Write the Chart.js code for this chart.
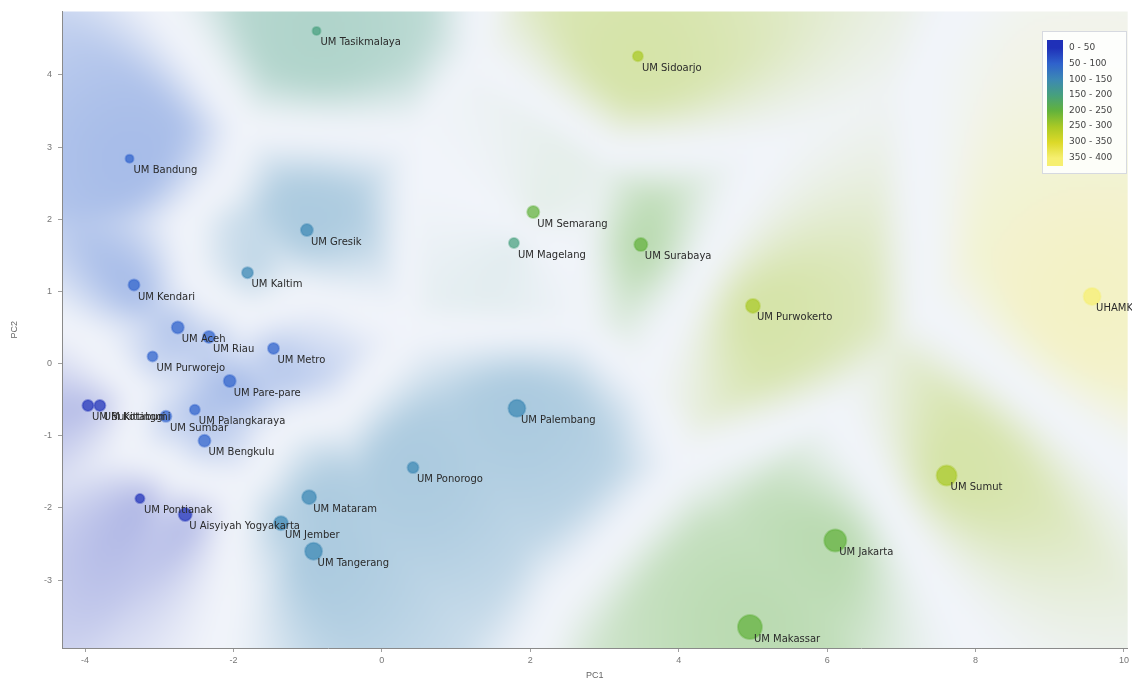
<!DOCTYPE html>
<html>
<head>
<meta charset="utf-8">
<script src="https://cdn.jsdelivr.net/npm/chart.js@4.4.1/dist/chart.umd.min.js"></script>
<style>
  html, body { margin: 0; padding: 0; background: #fff; }
  #wrap { width: 1132px; height: 683px; }
</style>
</head>
<body>
<div id="wrap"><canvas id="pcaChart"></canvas></div>
<script>
// PCA scores per campus
const names = ['UM Tasikmalaya', 'UM Sidoarjo', 'UM Bandung', 'UM Semarang', 'UM Magelang', 'UM Surabaya',
  'UM Gresik', 'UM Kaltim', 'UM Kendari', 'UM Purwokerto', 'UHAMKA', 'UM Aceh', 'UM Riau', 'UM Metro',
  'UM Purworejo', 'UM Pare-pare', 'UM Bukittinggi', 'UM Kotabumi', 'UM Sumbar', 'UM Palangkaraya',
  'UM Bengkulu', 'UM Palembang', 'UM Ponorogo', 'UM Pontianak', 'U Aisyiyah Yogyakarta', 'UM Mataram',
  'UM Jember', 'UM Tangerang', 'UM Sumut', 'UM Jakarta', 'UM Makassar'];
const pc1 = [-0.88, 3.45, -3.40, 2.04, 1.78, 3.49, -1.01, -1.81, -3.34, 5.00, 9.57, -2.75, -2.33, -1.46,
  -3.09, -2.05, -3.96, -3.80, -2.91, -2.52, -2.39, 1.82, 0.42, -3.26, -2.65, -0.98, -1.36, -0.92, 7.61, 6.11, 4.96];
const pc2 = [4.61, 4.26, 2.84, 2.10, 1.67, 1.65, 1.85, 1.26, 1.09, 0.80, 0.93, 0.50, 0.37, 0.21,
  0.10, -0.24, -0.58, -0.58, -0.73, -0.64, -1.07, -0.62, -1.44, -1.87, -2.09, -1.85, -2.21, -2.60, -1.55, -2.45, -3.65];
// colour variable (0 - 400) and bubble size variable
const scores = [175, 270, 75, 215, 165, 220, 125, 120, 70, 265, 360, 80, 90, 85,
  70, 85, 30, 35, 55, 90, 75, 130, 125, 40, 45, 140, 100, 100, 275, 225, 230];
const weights = [24, 36, 24, 48, 36, 54, 48, 42, 42, 60, 78, 48, 48, 42,
  36, 48, 42, 42, 42, 36, 48, 78, 42, 30, 54, 60, 60, 78, 96, 108, 120];

const xTicks = [-4, -2, 0, 2, 4, 6, 8, 10];
const yTicks = [-3, -2, -1, 0, 1, 2, 3, 4];
const binLabels = ['0 - 50', '50 - 100', '100 - 150', '150 - 200', '200 - 250', '250 - 300', '300 - 350', '350 - 400'];
const binColors = ['#1f30b8', '#2f62cc', '#3c88b4', '#46a07e', '#62b23c', '#a9c925', '#dcd928', '#f6ef70'];

function rgb(hex) {
  const n = parseInt(hex.slice(1), 16);
  return [(n >> 16) & 255, (n >> 8) & 255, n & 255];
}
function binOf(v) { return Math.max(0, Math.min(binColors.length - 1, Math.floor(v / 50))); }
function rgba(hex, a) { const c = rgb(hex); return `rgba(${c[0]},${c[1]},${c[2]},${a})`; }

const bubbles = pc1.map((x, i) => ({ x: x, y: pc2[i], r: 2 + weights[i] / 12 }));

// soft coloured regions behind the points
const fieldPlugin = {
  id: 'field',
  beforeDraw(chart) {
    const { ctx, chartArea: a, scales } = chart;
    const step = 3, m = 30;
    const left = a.left - m, top = a.top - m;
    const gw = Math.ceil((a.right - a.left + 2 * m) / step), gh = Math.ceil((a.bottom - a.top + 2 * m) / step);
    const off = document.createElement('canvas');
    off.width = gw; off.height = gh;
    const octx = off.getContext('2d');
    const img = octx.createImageData(gw, gh);
    const px = pc1.map(v => scales.x.getPixelForValue(v));
    const py = pc2.map(v => scales.y.getPixelForValue(v));
    const bins = scores.map(binOf);
    const base = [241, 244, 250];
    const d = new Array(px.length);
    for (let j = 0; j < gh; j++) {
      for (let i = 0; i < gw; i++) {
        const cx = left + i * step, cy = top + j * step;
        let d1 = 1e9, k1 = 0;
        for (let k = 0; k < px.length; k++) {
          d[k] = Math.hypot(cx - px[k], cy - py[k]);
          if (d[k] < d1) { d1 = d[k]; k1 = k; }
        }
        let d2 = 1e9;
        for (let k = 0; k < px.length; k++) {
          if (bins[k] !== bins[k1] && d[k] < d2) d2 = d[k];
        }
        let t = Math.min(1, (d2 - d1) / 120);
        t = t * t * (3 - 2 * t);
        const fade = Math.exp(-Math.pow(d1 / 215, 2));
        const s = t * (0.34 * fade + 0.04);
        const c = rgb(binColors[bins[k1]]);
        const o = (j * gw + i) * 4;
        img.data[o] = base[0] + (c[0] - base[0]) * s;
        img.data[o + 1] = base[1] + (c[1] - base[1]) * s;
        img.data[o + 2] = base[2] + (c[2] - base[2]) * s;
        img.data[o + 3] = 255;
      }
    }
    octx.putImageData(img, 0, 0);
    ctx.save();
    ctx.beginPath();
    ctx.rect(a.left, a.top, a.right - a.left, a.bottom - a.top);
    ctx.clip();
    ctx.imageSmoothingEnabled = true;
    ctx.filter = 'blur(10px)';
    ctx.drawImage(off, left, top, gw * step, gh * step);
    ctx.restore();
  }
};

// point names next to each bubble
const labelPlugin = {
  id: 'pointLabels',
  afterDatasetsDraw(chart) {
    const ctx = chart.ctx;
    const meta = chart.getDatasetMeta(0);
    ctx.save();
    ctx.font = '10px "DejaVu Sans", sans-serif';
    ctx.fillStyle = '#2a2a2a';
    ctx.textBaseline = 'middle';
    meta.data.forEach((el, i) => {
      ctx.fillText(names[i], el.x + 4, el.y + 12);
    });
    ctx.restore();
  }
};

// colour scale box in the top right corner
const scaleLegend = {
  id: 'scaleLegend',
  afterDraw(chart) {
    const ctx = chart.ctx;
    const x0 = 1042, y0 = 31, w = 84, h = 142;
    ctx.save();
    ctx.fillStyle = 'rgba(255,255,255,0.85)';
    ctx.strokeStyle = '#d6d9e0';
    ctx.lineWidth = 1;
    ctx.fillRect(x0, y0, w, h);
    ctx.strokeRect(x0 + 0.5, y0 + 0.5, w, h);
    const barTop = y0 + 9, barH = h - 16;
    const g = ctx.createLinearGradient(0, barTop, 0, barTop + barH);
    binColors.forEach((c, i) => g.addColorStop((i + 0.5) / binColors.length, c));
    ctx.fillStyle = g;
    ctx.fillRect(x0 + 5, barTop, 16, barH);
    ctx.font = '9px "DejaVu Sans", sans-serif';
    ctx.fillStyle = '#444';
    ctx.textBaseline = 'middle';
    binLabels.forEach((t, i) => {
      ctx.fillText(t, x0 + 27, barTop + 8 + i * 15.6);
    });
    ctx.restore();
  }
};

const ctx = document.getElementById('pcaChart').getContext('2d');
new Chart(ctx, {
  type: 'bubble',
  data: {
    datasets: [{
      label: 'PCA',
      data: bubbles,
      backgroundColor: scores.map(v => rgba(binColors[binOf(v)], 0.72)),
      borderColor: scores.map(v => rgba(binColors[binOf(v)], 0.4)),
      borderWidth: 2,
      clip: false
    }]
  },
  options: {
    responsive: true,
    maintainAspectRatio: false,
    animation: false,
    layout: { autoPadding: false, padding: { top: 10, right: 4, left: 0, bottom: 0 } },
    plugins: {
      legend: { display: false },
      tooltip: { enabled: false }
    },
    scales: {
      x: {
        type: 'linear',
        min: -4.31,
        max: 10.05,
        afterBuildTicks: s => { s.ticks = xTicks.map(v => ({ value: v })); },
        afterFit: s => { s.height = 35; },
        grid: { drawOnChartArea: false, tickLength: 4, color: '#a0a0a0' },
        border: { color: '#8a8a8a' },
        ticks: { color: '#777', font: { size: 9 }, padding: 3 },
        title: { display: true, text: 'PC1', color: '#666', font: { size: 9 }, padding: { top: 0, bottom: 2 } }
      },
      y: {
        type: 'linear',
        min: -3.94,
        max: 4.88,
        afterBuildTicks: s => { s.ticks = yTicks.map(v => ({ value: v })); },
        afterFit: s => { s.width = 62; },
        grid: { drawOnChartArea: false, tickLength: 4, color: '#a0a0a0' },
        border: { color: '#8a8a8a' },
        ticks: { color: '#777', font: { size: 9 }, padding: 6 },
        title: { display: true, text: 'PC2', color: '#666', font: { size: 9 }, padding: { top: 9, bottom: 0 } }
      }
    }
  },
  plugins: [fieldPlugin, labelPlugin, scaleLegend]
});
</script>
</body>
</html>
